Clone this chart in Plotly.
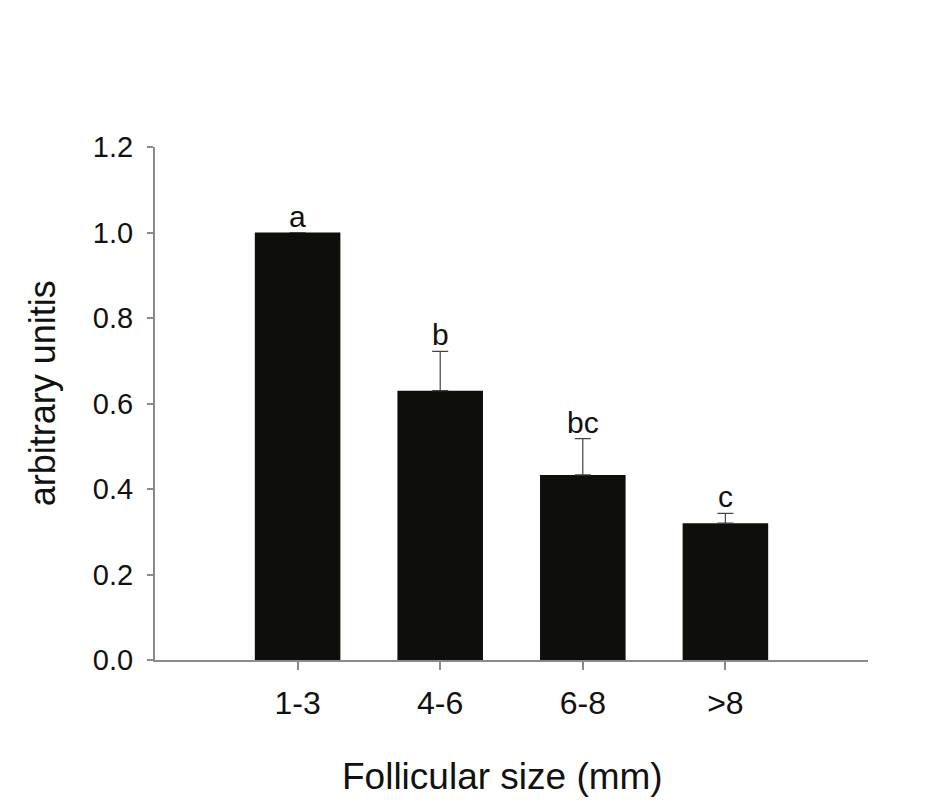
import plotly.graph_objects as go

categories = ["1-3", "4-6", "6-8", ">8"]
values = [1.0, 0.630, 0.433, 0.320]
errors = [0.0, 0.092, 0.085, 0.023]
letters = ["a", "b", "bc", "c"]
y_ticks = [0.0, 0.2, 0.4, 0.6, 0.8, 1.0, 1.2]
y_ticktext = ["0.0", "0.2", "0.4", "0.6", "0.8", "1.0", "1.2"]
x_title = "Follicular size (mm)"
y_title = "arbitrary unitis"

FONT = "Liberation Sans, Arial, sans-serif"
AXIS_COLOR = "#8a8a8a"
TXT = "#111111"

fig = go.Figure()
fig.add_trace(go.Bar(
    x=list(range(len(categories))),
    y=values,
    width=0.6,
    marker=dict(color="#0e0e0b", line=dict(width=0)),
    error_y=dict(type="data", array=errors, arrayminus=[0] * len(errors),
                 symmetric=False, color="#444444", thickness=1.2, width=8,
                 visible=True),
    showlegend=False,
))

for i, (v, e, t) in enumerate(zip(values, errors, letters)):
    fig.add_annotation(x=i, y=v + e, text=t, showarrow=False,
                       yanchor="bottom", xanchor="center", yshift=-2,
                       font=dict(family=FONT, size=30, color=TXT))

# axis titles as annotations (positioned like the reference)
fig.add_annotation(xref="paper", yref="paper", x=0.487, y=0.0, yshift=-116,
                   text=x_title, showarrow=False, xanchor="center", yanchor="middle",
                   font=dict(family=FONT, size=37, color=TXT))
fig.add_annotation(xref="paper", yref="paper", x=0.0, xshift=-113, y=0.52,
                   text=y_title, showarrow=False, textangle=-90,
                   xanchor="center", yanchor="middle",
                   font=dict(family=FONT, size=36, color=TXT))

fig.update_layout(
    width=925, height=795,
    margin=dict(l=147, r=65, t=139, b=143),
    plot_bgcolor="white", paper_bgcolor="white",
    font=dict(family=FONT, color=TXT),
)
fig.update_xaxes(
    range=[-1, 4],
    tickmode="array", tickvals=list(range(len(categories))), ticktext=categories,
    ticks="outside", ticklen=8, tickwidth=1.5, tickcolor=AXIS_COLOR,
    showline=True, linecolor=AXIS_COLOR, linewidth=2,
    showgrid=False, zeroline=False,
    tickfont=dict(family=FONT, size=32, color=TXT),
    ticklabelstandoff=6,
)
fig.update_yaxes(
    range=[0, 1.2],
    tickmode="array", tickvals=y_ticks, ticktext=y_ticktext,
    ticks="outside", ticklen=6, tickwidth=1.5, tickcolor=AXIS_COLOR,
    showline=True, linecolor=AXIS_COLOR, linewidth=2,
    showgrid=False, zeroline=False,
    tickfont=dict(family=FONT, size=29, color=TXT),
    ticklabelstandoff=8,
)

fig.write_html("out.html")
